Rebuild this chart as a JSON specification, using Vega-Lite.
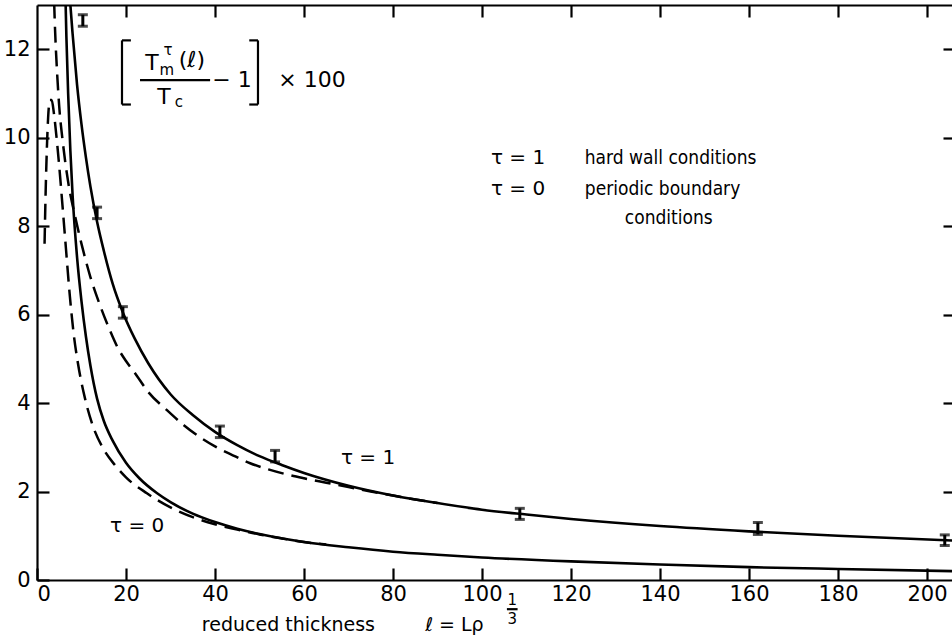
{
  "$schema": "https://vega.github.io/schema/vega-lite/v6.json",
  "width": 918,
  "height": 575,
  "autosize": {"type": "none"},
  "padding": {"left": 37, "top": 5, "right": 0, "bottom": 59},
  "background": "white",
  "config": {
    "view": {"stroke": null},
    "font": "DejaVu Sans",
    "axis": {"domainColor": "black", "domainWidth": 2.2, "tickColor": "black", "tickWidth": 2.2, "labelColor": "black", "labelFont": "DejaVu Sans", "labelFontSize": 21, "grid": false, "title": null}
  },
  "datasets": {
    "curves": [
      {"series": "s1", "style": "solid", "x": 7.1, "y": 13.6},
      {"series": "s1", "style": "solid", "x": 7.5, "y": 13.0},
      {"series": "s1", "style": "solid", "x": 8, "y": 12.35},
      {"series": "s1", "style": "solid", "x": 9, "y": 11.2},
      {"series": "s1", "style": "solid", "x": 10, "y": 10.3},
      {"series": "s1", "style": "solid", "x": 11, "y": 9.55},
      {"series": "s1", "style": "solid", "x": 12, "y": 8.9},
      {"series": "s1", "style": "solid", "x": 13.5, "y": 8.1},
      {"series": "s1", "style": "solid", "x": 15, "y": 7.45},
      {"series": "s1", "style": "solid", "x": 17, "y": 6.7},
      {"series": "s1", "style": "solid", "x": 19.3, "y": 6.05},
      {"series": "s1", "style": "solid", "x": 22, "y": 5.45},
      {"series": "s1", "style": "solid", "x": 25, "y": 4.9},
      {"series": "s1", "style": "solid", "x": 30, "y": 4.2},
      {"series": "s1", "style": "solid", "x": 35, "y": 3.73},
      {"series": "s1", "style": "solid", "x": 40, "y": 3.35},
      {"series": "s1", "style": "solid", "x": 45, "y": 3.05},
      {"series": "s1", "style": "solid", "x": 50, "y": 2.8},
      {"series": "s1", "style": "solid", "x": 55, "y": 2.6},
      {"series": "s1", "style": "solid", "x": 60, "y": 2.42},
      {"series": "s1", "style": "solid", "x": 70, "y": 2.13},
      {"series": "s1", "style": "solid", "x": 80, "y": 1.91},
      {"series": "s1", "style": "solid", "x": 90, "y": 1.74},
      {"series": "s1", "style": "solid", "x": 100, "y": 1.59},
      {"series": "s1", "style": "solid", "x": 110, "y": 1.48},
      {"series": "s1", "style": "solid", "x": 120, "y": 1.38},
      {"series": "s1", "style": "solid", "x": 140, "y": 1.22},
      {"series": "s1", "style": "solid", "x": 160, "y": 1.1},
      {"series": "s1", "style": "solid", "x": 180, "y": 1.0},
      {"series": "s1", "style": "solid", "x": 206.3, "y": 0.89},

      {"series": "s0", "style": "solid", "x": 6.3, "y": 13.6},
      {"series": "s0", "style": "solid", "x": 6.6, "y": 12.3},
      {"series": "s0", "style": "solid", "x": 7.0, "y": 11.0},
      {"series": "s0", "style": "solid", "x": 7.5, "y": 9.7},
      {"series": "s0", "style": "solid", "x": 8, "y": 8.7},
      {"series": "s0", "style": "solid", "x": 9, "y": 7.3},
      {"series": "s0", "style": "solid", "x": 10, "y": 6.3},
      {"series": "s0", "style": "solid", "x": 11, "y": 5.5},
      {"series": "s0", "style": "solid", "x": 12, "y": 4.85},
      {"series": "s0", "style": "solid", "x": 13.5, "y": 4.1},
      {"series": "s0", "style": "solid", "x": 15, "y": 3.6},
      {"series": "s0", "style": "solid", "x": 17, "y": 3.15},
      {"series": "s0", "style": "solid", "x": 20, "y": 2.65},
      {"series": "s0", "style": "solid", "x": 23, "y": 2.3},
      {"series": "s0", "style": "solid", "x": 27, "y": 1.96},
      {"series": "s0", "style": "solid", "x": 30, "y": 1.76},
      {"series": "s0", "style": "solid", "x": 35, "y": 1.5},
      {"series": "s0", "style": "solid", "x": 40, "y": 1.31},
      {"series": "s0", "style": "solid", "x": 45, "y": 1.16},
      {"series": "s0", "style": "solid", "x": 50, "y": 1.04},
      {"series": "s0", "style": "solid", "x": 60, "y": 0.86},
      {"series": "s0", "style": "solid", "x": 70, "y": 0.74},
      {"series": "s0", "style": "solid", "x": 80, "y": 0.64},
      {"series": "s0", "style": "solid", "x": 90, "y": 0.57},
      {"series": "s0", "style": "solid", "x": 100, "y": 0.51},
      {"series": "s0", "style": "solid", "x": 120, "y": 0.42},
      {"series": "s0", "style": "solid", "x": 140, "y": 0.35},
      {"series": "s0", "style": "solid", "x": 160, "y": 0.29},
      {"series": "s0", "style": "solid", "x": 180, "y": 0.25},
      {"series": "s0", "style": "solid", "x": 206.3, "y": 0.2},

      {"series": "d1", "style": "dashed", "x": 3.7, "y": 13.6},
      {"series": "d1", "style": "dashed", "x": 4.0, "y": 12.6},
      {"series": "d1", "style": "dashed", "x": 4.5, "y": 11.5},
      {"series": "d1", "style": "dashed", "x": 5.0, "y": 10.7},
      {"series": "d1", "style": "dashed", "x": 5.8, "y": 9.9},
      {"series": "d1", "style": "dashed", "x": 7.0, "y": 9.0},
      {"series": "d1", "style": "dashed", "x": 8.5, "y": 8.25},
      {"series": "d1", "style": "dashed", "x": 10, "y": 7.6},
      {"series": "d1", "style": "dashed", "x": 12, "y": 6.85},
      {"series": "d1", "style": "dashed", "x": 14.2, "y": 6.2},
      {"series": "d1", "style": "dashed", "x": 16.4, "y": 5.64},
      {"series": "d1", "style": "dashed", "x": 18, "y": 5.28},
      {"series": "d1", "style": "dashed", "x": 20, "y": 4.95},
      {"series": "d1", "style": "dashed", "x": 22, "y": 4.68},
      {"series": "d1", "style": "dashed", "x": 25, "y": 4.25},
      {"series": "d1", "style": "dashed", "x": 29.2, "y": 3.84},
      {"series": "d1", "style": "dashed", "x": 33, "y": 3.5},
      {"series": "d1", "style": "dashed", "x": 36.6, "y": 3.23},
      {"series": "d1", "style": "dashed", "x": 40, "y": 3.02},
      {"series": "d1", "style": "dashed", "x": 44, "y": 2.82},
      {"series": "d1", "style": "dashed", "x": 47.9, "y": 2.64},
      {"series": "d1", "style": "dashed", "x": 52, "y": 2.5},
      {"series": "d1", "style": "dashed", "x": 56, "y": 2.39},
      {"series": "d1", "style": "dashed", "x": 60, "y": 2.3},
      {"series": "d1", "style": "dashed", "x": 65, "y": 2.2},
      {"series": "d1", "style": "dashed", "x": 70, "y": 2.1},
      {"series": "d1", "style": "dashed", "x": 75, "y": 2.0},
      {"series": "d1", "style": "dashed", "x": 80, "y": 1.91},
      {"series": "d1", "style": "dashed", "x": 85, "y": 1.82},
      {"series": "d1", "style": "dashed", "x": 90, "y": 1.74},

      {"series": "d0", "style": "dashed", "x": 1.7, "y": 7.6},
      {"series": "d0", "style": "dashed", "x": 1.95, "y": 8.8},
      {"series": "d0", "style": "dashed", "x": 2.2, "y": 9.7},
      {"series": "d0", "style": "dashed", "x": 2.5, "y": 10.45},
      {"series": "d0", "style": "dashed", "x": 2.9, "y": 10.85},
      {"series": "d0", "style": "dashed", "x": 3.3, "y": 10.85},
      {"series": "d0", "style": "dashed", "x": 3.8, "y": 10.55},
      {"series": "d0", "style": "dashed", "x": 4.4, "y": 10.0},
      {"series": "d0", "style": "dashed", "x": 5.0, "y": 9.35},
      {"series": "d0", "style": "dashed", "x": 5.7, "y": 8.5},
      {"series": "d0", "style": "dashed", "x": 6.5, "y": 7.5},
      {"series": "d0", "style": "dashed", "x": 7.4, "y": 6.4},
      {"series": "d0", "style": "dashed", "x": 8.2, "y": 5.6},
      {"series": "d0", "style": "dashed", "x": 9.2, "y": 4.9},
      {"series": "d0", "style": "dashed", "x": 10.8, "y": 4.1},
      {"series": "d0", "style": "dashed", "x": 12.5, "y": 3.5},
      {"series": "d0", "style": "dashed", "x": 15, "y": 2.95},
      {"series": "d0", "style": "dashed", "x": 17.5, "y": 2.6},
      {"series": "d0", "style": "dashed", "x": 20, "y": 2.32},
      {"series": "d0", "style": "dashed", "x": 24.7, "y": 1.96},
      {"series": "d0", "style": "dashed", "x": 30, "y": 1.64},
      {"series": "d0", "style": "dashed", "x": 35, "y": 1.42},
      {"series": "d0", "style": "dashed", "x": 40, "y": 1.26},
      {"series": "d0", "style": "dashed", "x": 45, "y": 1.14},
      {"series": "d0", "style": "dashed", "x": 50, "y": 1.03},
      {"series": "d0", "style": "dashed", "x": 55, "y": 0.94},
      {"series": "d0", "style": "dashed", "x": 60, "y": 0.86},
      {"series": "d0", "style": "dashed", "x": 65, "y": 0.8}
    ],
    "errors": [
      {"x": 10.3, "lo": 12.52, "hi": 12.78},
      {"x": 13.5, "lo": 8.17, "hi": 8.43},
      {"x": 19.3, "lo": 5.92, "hi": 6.18},
      {"x": 41.1, "lo": 3.22, "hi": 3.48},
      {"x": 53.5, "lo": 2.67, "hi": 2.93},
      {"x": 108.5, "lo": 1.37, "hi": 1.62},
      {"x": 162, "lo": 1.03, "hi": 1.3},
      {"x": 204, "lo": 0.78, "hi": 1.02}
    ],
    "strokes": [
      {"x": 19.1, "x2": 19.1, "y": 12.2, "y2": 10.75},
      {"x": 19.1, "x2": 21.1, "y": 12.2, "y2": 12.2},
      {"x": 19.1, "x2": 21.1, "y": 10.75, "y2": 10.75},
      {"x": 49.66, "x2": 49.66, "y": 12.2, "y2": 10.75},
      {"x": 47.7, "x2": 49.66, "y": 12.2, "y2": 12.2},
      {"x": 47.7, "x2": 49.66, "y": 10.75, "y2": 10.75},
      {"x": 23.15, "x2": 38.9, "y": 11.3, "y2": 11.3},
      {"x": 105.6, "x2": 108.0, "y": -0.66, "y2": -0.66}
    ],
    "texts": [
      {"g": "big", "x": 25.84, "y": 11.7, "t": "T"},
      {"g": "big", "x": 34.8, "y": 11.75, "t": "(ℓ)"},
      {"g": "big", "x": 28.54, "y": 10.92, "t": "T"},
      {"g": "big", "x": 43.82, "y": 11.3, "t": "− 1"},
      {"g": "big", "x": 61.8, "y": 11.3, "t": "× 100"},
      {"g": "mid", "x": 108.1, "y": 9.54, "t": "τ = 1"},
      {"g": "mid", "x": 108.1, "y": 8.84, "t": "τ = 0"},
      {"g": "mid", "x": 74.4, "y": 2.76, "t": "τ = 1"},
      {"g": "mid", "x": 22.5, "y": 1.22, "t": "τ = 0"},
      {"g": "small", "x": 29.2, "y": 11.53, "t": "m"},
      {"g": "small", "x": 29.44, "y": 11.98, "t": "τ"},
      {"g": "small", "x": 31.9, "y": 10.81, "t": "c"},
      {"g": "small", "x": 106.8, "y": -0.45, "t": "1"},
      {"g": "small", "x": 106.8, "y": -0.88, "t": "3"},
      {"g": "left", "x": 123.1, "y": 9.54, "t": "hard  wall  conditions"},
      {"g": "left", "x": 123.1, "y": 8.84, "t": "periodic  boundary"},
      {"g": "left", "x": 132.1, "y": 8.18, "t": "conditions"},
      {"g": "title", "x": 56.5, "y": -1.02, "t": "reduced  thickness"},
      {"g": "title", "x": 93.8, "y": -1.02, "t": "ℓ = Lρ"}
    ]
  },
  "resolve": {"axis": {"x": "independent", "y": "independent"}},
  "layer": [
    {
      "data": {"name": "curves"},
      "transform": [{"filter": "datum.style === 'solid'"}],
      "mark": {"type": "line", "color": "black", "strokeWidth": 2.6, "clip": true, "interpolate": "monotone"},
      "encoding": {
        "x": {"field": "x", "type": "quantitative", "scale": {"domain": [0, 206.3], "nice": false, "zero": false},
              "axis": {"orient": "bottom", "values": [0, 20, 40, 60, 80, 100, 120, 140, 160, 180, 200], "tickSize": -12, "labelPadding": 15, "format": "d"}},
        "y": {"field": "y", "type": "quantitative", "scale": {"domain": [0, 13], "nice": false, "zero": false},
              "axis": {"orient": "left", "values": [0, 2, 4, 6, 8, 10, 12], "tickSize": -12, "labelPadding": 19, "format": "d"}},
        "detail": {"field": "series", "type": "nominal"}
      }
    },
    {
      "data": {"name": "curves"},
      "transform": [{"filter": "datum.style === 'dashed'"}],
      "mark": {"type": "line", "color": "black", "strokeWidth": 2.5, "strokeDash": [16, 8], "clip": true, "interpolate": "monotone"},
      "encoding": {
        "x": {"field": "x", "type": "quantitative", "scale": {"domain": [0, 206.3], "nice": false, "zero": false},
              "axis": {"orient": "top", "values": [20, 40, 60, 80, 100, 120, 140, 160, 180, 200], "tickSize": -12, "labels": false}},
        "y": {"field": "y", "type": "quantitative", "scale": {"domain": [0, 13], "nice": false, "zero": false},
              "axis": {"orient": "right", "values": [2, 4, 6, 8, 10, 12], "tickSize": -12, "labels": false}},
        "detail": {"field": "series", "type": "nominal"}
      }
    },
    {
      "data": {"name": "errors"},
      "mark": {"type": "rule", "color": "black", "strokeWidth": 3},
      "encoding": {
        "x": {"field": "x", "type": "quantitative", "scale": {"domain": [0, 206.3], "nice": false, "zero": false}, "axis": null},
        "y": {"field": "lo", "type": "quantitative", "scale": {"domain": [0, 13], "nice": false, "zero": false}, "axis": null},
        "y2": {"field": "hi"}
      }
    },
    {
      "data": {"name": "errors"},
      "mark": {"type": "tick", "color": "black", "orient": "horizontal", "size": 10, "thickness": 3},
      "encoding": {
        "x": {"field": "x", "type": "quantitative", "scale": {"domain": [0, 206.3], "nice": false, "zero": false}, "axis": null},
        "y": {"field": "lo", "type": "quantitative", "scale": {"domain": [0, 13], "nice": false, "zero": false}, "axis": null}
      }
    },
    {
      "data": {"name": "errors"},
      "mark": {"type": "tick", "color": "black", "orient": "horizontal", "size": 10, "thickness": 3},
      "encoding": {
        "x": {"field": "x", "type": "quantitative", "scale": {"domain": [0, 206.3], "nice": false, "zero": false}, "axis": null},
        "y": {"field": "hi", "type": "quantitative", "scale": {"domain": [0, 13], "nice": false, "zero": false}, "axis": null}
      }
    },
    {
      "data": {"name": "strokes"},
      "mark": {"type": "rule", "color": "black", "strokeWidth": 2.2},
      "encoding": {
        "x": {"field": "x", "type": "quantitative", "scale": {"domain": [0, 206.3], "nice": false, "zero": false}, "axis": null},
        "x2": {"field": "x2"},
        "y": {"field": "y", "type": "quantitative", "scale": {"domain": [0, 13], "nice": false, "zero": false}, "axis": null},
        "y2": {"field": "y2"}
      }
    },
    {
      "data": {"name": "texts"},
      "transform": [{"filter": "datum.g === 'big'"}],
      "mark": {"type": "text", "color": "black", "fontSize": 22, "align": "center", "baseline": "middle", "font": "DejaVu Sans"},
      "encoding": {
        "x": {"field": "x", "type": "quantitative", "scale": {"domain": [0, 206.3], "nice": false, "zero": false}, "axis": null},
        "y": {"field": "y", "type": "quantitative", "scale": {"domain": [0, 13], "nice": false, "zero": false}, "axis": null},
        "text": {"field": "t"}
      }
    },
    {
      "data": {"name": "texts"},
      "transform": [{"filter": "datum.g === 'mid'"}],
      "mark": {"type": "text", "color": "black", "fontSize": 20, "align": "center", "baseline": "middle", "font": "DejaVu Sans"},
      "encoding": {
        "x": {"field": "x", "type": "quantitative", "scale": {"domain": [0, 206.3], "nice": false, "zero": false}, "axis": null},
        "y": {"field": "y", "type": "quantitative", "scale": {"domain": [0, 13], "nice": false, "zero": false}, "axis": null},
        "text": {"field": "t"}
      }
    },
    {
      "data": {"name": "texts"},
      "transform": [{"filter": "datum.g === 'small'"}],
      "mark": {"type": "text", "color": "black", "fontSize": 15, "align": "center", "baseline": "middle", "font": "DejaVu Sans"},
      "encoding": {
        "x": {"field": "x", "type": "quantitative", "scale": {"domain": [0, 206.3], "nice": false, "zero": false}, "axis": null},
        "y": {"field": "y", "type": "quantitative", "scale": {"domain": [0, 13], "nice": false, "zero": false}, "axis": null},
        "text": {"field": "t"}
      }
    },
    {
      "data": {"name": "texts"},
      "transform": [{"filter": "datum.g === 'left'"}],
      "mark": {"type": "text", "color": "black", "fontSize": 19, "align": "left", "baseline": "middle", "font": "DejaVu Sans Condensed"},
      "encoding": {
        "x": {"field": "x", "type": "quantitative", "scale": {"domain": [0, 206.3], "nice": false, "zero": false}, "axis": null},
        "y": {"field": "y", "type": "quantitative", "scale": {"domain": [0, 13], "nice": false, "zero": false}, "axis": null},
        "text": {"field": "t"}
      }
    },
    {
      "data": {"name": "texts"},
      "transform": [{"filter": "datum.g === 'title'"}],
      "mark": {"type": "text", "color": "black", "fontSize": 19, "align": "center", "baseline": "middle", "font": "DejaVu Sans"},
      "encoding": {
        "x": {"field": "x", "type": "quantitative", "scale": {"domain": [0, 206.3], "nice": false, "zero": false}, "axis": null},
        "y": {"field": "y", "type": "quantitative", "scale": {"domain": [0, 13], "nice": false, "zero": false}, "axis": null},
        "text": {"field": "t"}
      }
    }
  ]
}
